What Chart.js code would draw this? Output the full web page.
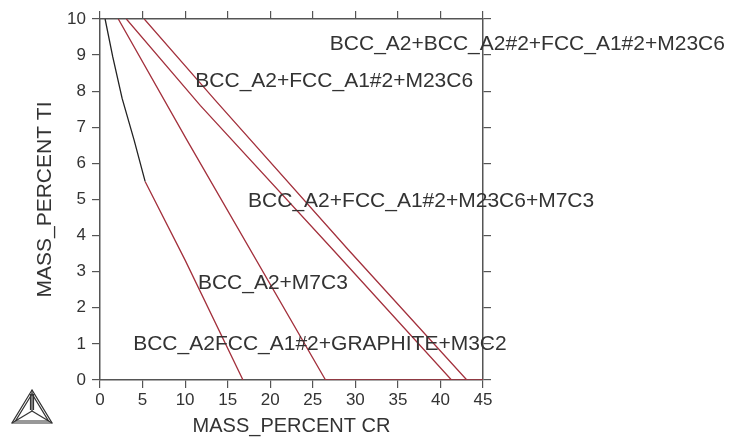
<!DOCTYPE html>
<html>
<head>
<meta charset="utf-8">
<script src="https://cdn.jsdelivr.net/npm/chart.js@4"></script>
<style>
  html, body { margin: 0; padding: 0; background: #fff; }
  #wrap { width: 733px; height: 438px; }
</style>
</head>
<body>
<div id="wrap"><canvas id="diagram" width="733" height="438"></canvas></div>
<script>
// phase boundaries, mass percent Cr (x) vs mass percent Ti (y)
const crBlack = [0.6, 1.5, 2.6, 4.0, 5.3];
const tiBlack = [10, 8.95, 7.8, 6.65, 5.5];
const crRed1 = [5.3, 10.0, 16.8];
const tiRed1 = [5.5, 3.32, 0];
const crRed2 = [2.15, 10.2, 26.5];
const tiRed2 = [10, 6.65, 0];
const crRed3 = [3.1, 11.8, 27.4, 41.3];
const tiRed3 = [10, 7.6, 3.6, 0];
const crRed4 = [5.2, 13.5, 29.2, 43.1];
const tiRed4 = [10, 7.76, 3.6, 0];
const crBase = [26.5, 45];
const tiBase = [0, 0];

// phase field labels, anchored at their left edge (data units)
const phaseNames = [
    "BCC_A2+BCC_A2#2+FCC_A1#2+M23C6",
    "BCC_A2+FCC_A1#2+M23C6",
    "BCC_A2+FCC_A1#2+M23C6+M7C3",
    "BCC_A2+M7C3",
    "BCC_A2FCC_A1#2+GRAPHITE+M3C2"
];
const phaseCr = [27.0, 11.2, 17.4, 11.5, 3.9];
const phaseTi = [9.3, 8.28, 4.96, 2.69, 1.0];

const RED = "#a3303c";
const AXIS = "#555";

const toPoints = (xs, ys) => xs.map((x, i) => ({ x: x, y: ys[i] }));

const line = (xs, ys, color) => ({
    data: toPoints(xs, ys),
    showLine: true,
    borderColor: color,
    borderWidth: 1.3,
    pointRadius: 0,
    fill: false
});

const labelsPlugin = {
    id: "phaseLabels",
    afterDatasetsDraw(chart) {
        const ctx = chart.ctx;
        const sx = chart.scales.x;
        const sy = chart.scales.y;
        ctx.save();
        ctx.fillStyle = "#333";
        ctx.font = "21px 'Liberation Sans', Arial, sans-serif";
        ctx.textBaseline = "middle";
        ctx.textAlign = "left";
        phaseNames.forEach((name, i) => {
            ctx.fillText(name, sx.getPixelForValue(phaseCr[i]), sy.getPixelForValue(phaseTi[i]));
        });
        ctx.restore();
    }
};

// Thermo-Calc style triangle mark in the bottom-left corner
const logoPlugin = {
    id: "logo",
    afterDraw(chart) {
        const ctx = chart.ctx;
        ctx.save();
        ctx.strokeStyle = "#333";
        ctx.lineWidth = 1.2;
        const top = [32, 390], left = [12, 423], right = [52, 423], mid = [32, 411];
        const tri = (a, b, c) => {
            ctx.beginPath();
            ctx.moveTo(a[0], a[1]); ctx.lineTo(b[0], b[1]); ctx.lineTo(c[0], c[1]);
            ctx.closePath(); ctx.stroke();
        };
        tri(top, left, right);
        tri([32, 394], [15.5, 421], [48.5, 421]);
        [top, left, right].forEach(p => {
            ctx.beginPath(); ctx.moveTo(p[0], p[1]); ctx.lineTo(mid[0], mid[1]); ctx.stroke();
        });
        ctx.beginPath(); ctx.moveTo(30.5, 394); ctx.lineTo(30.5, 410); ctx.stroke();
        ctx.beginPath(); ctx.moveTo(33.5, 394); ctx.lineTo(33.5, 410); ctx.stroke();
        ctx.restore();
    }
};

const frameGrid = { display: true, drawOnChartArea: false, drawTicks: true, tickLength: 8, color: AXIS, lineWidth: 1.2 };
const frameBorder = { display: true, color: AXIS, width: 1.5 };
const tickFont = { family: "'Liberation Sans', Arial, sans-serif", size: 17 };

new Chart(document.getElementById("diagram"), {
    type: "scatter",
    data: {
        datasets: [
            line(crBlack, tiBlack, "#222"),
            line(crRed1, tiRed1, RED),
            line(crRed2, tiRed2, RED),
            line(crRed3, tiRed3, RED),
            line(crRed4, tiRed4, RED),
            line(crBase, tiBase, RED)
        ]
    },
    options: {
        responsive: false,
        animation: false,
        layout: { padding: 0 },
        plugins: {
            legend: { display: false },
            tooltip: { enabled: false }
        },
        scales: {
            x: {
                type: "linear", position: "bottom", min: 0, max: 45,
                ticks: { stepSize: 5, color: "#333", font: tickFont, padding: 2, maxRotation: 0 },
                grid: frameGrid, border: frameBorder,
                title: { display: true, text: "MASS_PERCENT CR", color: "#333",
                         font: { family: "'Liberation Sans', Arial, sans-serif", size: 20 }, padding: 0 },
                afterFit(s) { s.height = 58; }
            },
            y: {
                type: "linear", position: "left", min: 0, max: 10,
                ticks: { stepSize: 1, color: "#333", font: tickFont, padding: 6 },
                grid: frameGrid, border: frameBorder,
                title: { display: true, text: "MASS_PERCENT TI", color: "#333",
                         font: { family: "'Liberation Sans', Arial, sans-serif", size: 21 }, padding: { top: 33, bottom: 0 } },
                afterFit(s) { s.width = 100; }
            },
            x2: {
                type: "linear", position: "top", min: 0, max: 45,
                ticks: { stepSize: 5, display: false },
                grid: frameGrid, border: frameBorder,
                afterFit(s) { s.height = 19; }
            },
            y2: {
                type: "linear", position: "right", min: 0, max: 10,
                ticks: { stepSize: 1, display: false },
                grid: frameGrid, border: frameBorder,
                afterFit(s) { s.width = 250; }
            }
        }
    },
    plugins: [labelsPlugin, logoPlugin]
});
</script>
</body>
</html>
